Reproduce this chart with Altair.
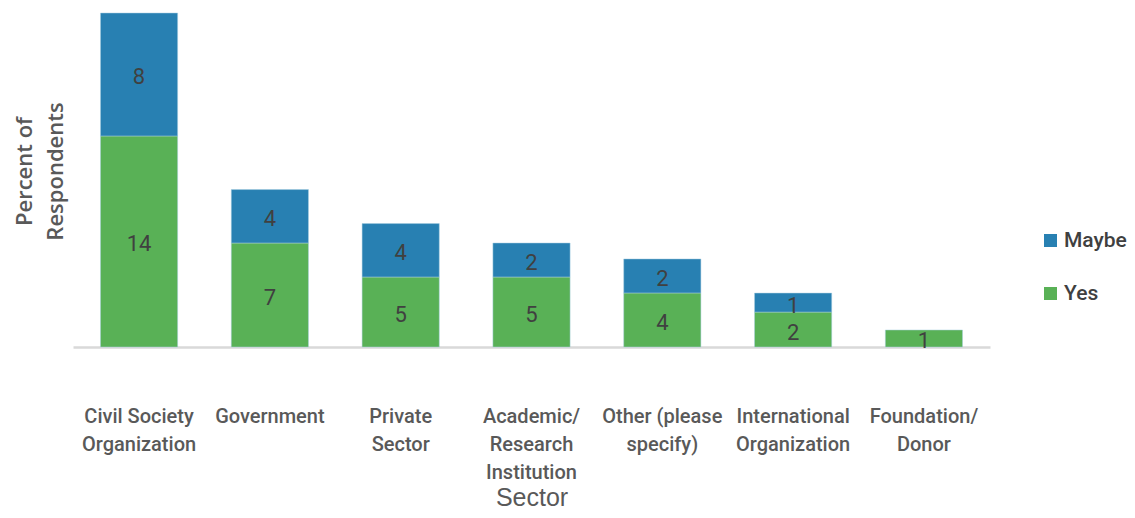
import altair as alt
import pandas as pd

categories = [
    "Civil Society\nOrganization",
    "Government",
    "Private\nSector",
    "Academic/\nResearch\nInstitution",
    "Other (please\nspecify)",
    "International\nOrganization",
    "Foundation/\nDonor",
]
yes_values = [13.9, 6.85, 4.61, 4.61, 3.56, 2.3, 1.12]
maybe_values = [8.1, 3.52, 3.52, 2.24, 2.24, 1.25, 0.0]
series = ["Yes", "Maybe"]
colors = ["#59b156", "#2880b2"]

rows = []
for i, c in enumerate(categories):
    rows.append({"cat": c, "series": "Yes", "ord": 0, "value": yes_values[i]})
    rows.append({"cat": c, "series": "Maybe", "ord": 1, "value": maybe_values[i]})
df = pd.DataFrame(rows)

base = alt.Chart(df).transform_filter("datum.value > 0").transform_stack(
    stack="value", groupby=["cat"], as_=["y0", "y1"], sort=[alt.SortField("ord", order="ascending")]
).transform_calculate(mid="(datum.y0 + datum.y1) / 2")

xenc = alt.X(
    "cat:N",
    sort=categories,
    scale=alt.Scale(paddingInner=0.41, paddingOuter=0.21),
    axis=alt.Axis(
        title="Sector",
        labelExpr="split(datum.label, '\\n')",
        labelAngle=0,
        labelFont="Roboto",
        labelFontSize=20,
        labelFontWeight=500,
        labelColor="#595959",
        labelLineHeight=28,
        labelPadding=59,
        labelBaseline="top",
        ticks=False,
        domainColor="#d9d9d9",
        domainWidth=2.5,
        titleFont="Liberation Sans",
        titleFontSize=25,
        titleFontWeight="normal",
        titleColor="#595959",
        titleY=158,
        titleBaseline="alphabetic",
    ),
)

yscale = alt.Scale(domain=[0, 22], nice=False, zero=True)

bars = base.mark_bar(stroke="#a9cfe0", strokeWidth=0.5).encode(
    x=xenc,
    y=alt.Y(
        "y0:Q",
        scale=yscale,
        axis=alt.Axis(
            title=["Percent of", "Respondents"],
            labels=False,
            ticks=False,
            domain=False,
            grid=False,
            titleFont="Open Sans",
            titleFontSize=22,
            titleFontWeight=600,
            titleColor="#595959",
            titleAngle=-90,
            titleAlign="center",
            titleBaseline="top",
            titleLineHeight=31,
            titleX=-59,
            titleY=158,
        ),
    ),
    y2="y1:Q",
    color=alt.Color(
        "series:N",
        scale=alt.Scale(domain=series, range=colors),
        legend=alt.Legend(
            title=None,
            orient="none",
            legendX=967,
            legendY=217,
            values=["Maybe", "Yes"],
            symbolType="square",
            symbolSize=169,
            symbolStrokeWidth=0,
            labelFont="Roboto",
            labelFontSize=21,
            labelFontWeight=500,
            labelColor="#404040",
            labelOffset=3,
            rowPadding=31,
        ),
    ),
)

labels = base.mark_text(
    font="Roboto", fontSize=22, color="#404040", baseline="middle", dy=3
).encode(
    x=alt.X("cat:N", sort=categories),
    y=alt.Y("mid:Q", scale=yscale),
    text=alt.Text("value:Q", format=".0f"),
)

chart = (
    alt.layer(bars, labels)
    .properties(
        width=917,
        height=334,
        autosize=alt.AutoSizeParams(type="none"),
        padding={"left": 65, "top": 5, "right": 137, "bottom": 163},
        view=alt.ViewBackground(strokeOpacity=0, strokeWidth=0),
    )
    .configure_view(strokeWidth=0, strokeOpacity=0)
    .configure(background="white")
)

chart.save("out.html", embed_options={"renderer": "svg", "actions": False})
